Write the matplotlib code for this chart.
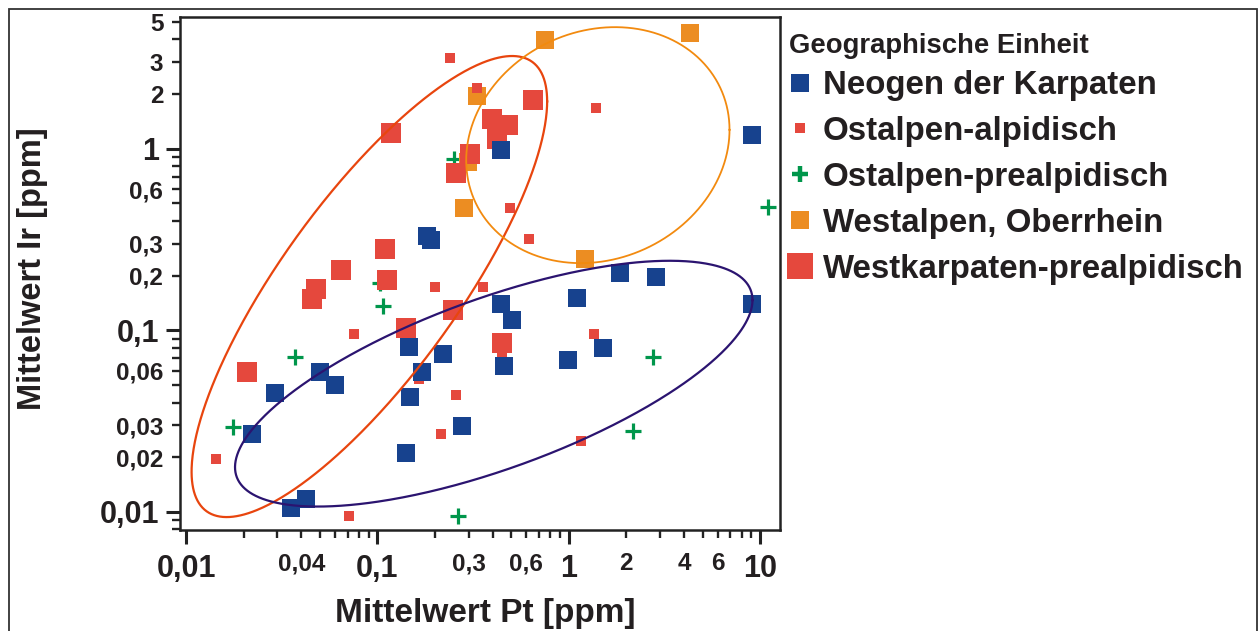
import numpy as np
import matplotlib
matplotlib.use("Agg")
import matplotlib.pyplot as plt
from matplotlib.lines import Line2D
from matplotlib.patches import Rectangle
from matplotlib.ticker import FixedLocator, FuncFormatter

plt.rcParams['font.family'] = ['Liberation Sans', 'DejaVu Sans']
plt.rcParams['font.weight'] = 'bold'

# --- data: mean Pt and Ir contents [ppm] per geographic unit ---
neogen_pt = [0.44, 9.1, 0.182, 0.19, 0.44, 0.505, 1.10, 1.85, 2.86, 9.1, 1.51, 0.99, 0.46,
             0.22, 0.146, 0.171, 0.148, 0.277, 0.141, 0.050, 0.060, 0.0292, 0.0221, 0.0424, 0.0354]
neogen_ir = [0.985, 1.19, 0.331, 0.315, 0.140, 0.114, 0.151, 0.207, 0.197, 0.140, 0.080, 0.0686, 0.0636,
             0.074, 0.081, 0.059, 0.043, 0.0297, 0.0211, 0.059, 0.050, 0.045, 0.0268, 0.0118, 0.0105]

ostalp_alp_pt = [0.24, 0.332, 1.39, 0.494, 0.62, 0.200, 0.357, 0.0755, 1.356, 0.448, 0.165,
                 0.258, 0.215, 1.16, 0.01435, 0.0711]
ostalp_alp_ir = [3.16, 2.16, 1.68, 0.472, 0.318, 0.173, 0.173, 0.0954, 0.0954, 0.072, 0.054,
                 0.044, 0.0268, 0.0246, 0.0195, 0.0095]

ostalp_pre_pt = [0.252, 11.0, 0.107, 0.103, 0.0371, 0.0176, 2.76, 2.17, 0.264]
ostalp_pre_ir = [0.879, 0.478, 0.136, 0.182, 0.0713, 0.0293, 0.0713, 0.0279, 0.0095]

westalp_pt = [0.75, 4.3, 0.332, 0.298, 0.284, 1.22]
westalp_ir = [3.98, 4.35, 1.95, 0.846, 0.472, 0.247]

westkarp_pt = [0.118, 0.651, 0.398, 0.482, 0.422, 0.305, 0.258, 0.110, 0.112, 0.0646,
               0.0478, 0.0456, 0.141, 0.2485, 0.448, 0.0208]
westkarp_ir = [1.22, 1.86, 1.46, 1.35, 1.13, 0.936, 0.736, 0.280, 0.189, 0.215,
               0.169, 0.149, 0.103, 0.129, 0.085, 0.059]

group_labels = ["Neogen der Karpaten", "Ostalpen-alpidisch", "Ostalpen-prealpidisch",
                "Westalpen, Oberrhein", "Westkarpaten-prealpidisch"]
legend_title = "Geographische Einheit"

x_major_ticks = [0.01, 0.1, 1, 10]
x_minor_labeled = [0.04, 0.3, 0.6, 2, 4, 6]
y_major_ticks = [0.01, 0.1, 1]
y_minor_labeled = [0.02, 0.03, 0.06, 0.2, 0.3, 0.6, 2, 3, 5]

# colours
C_BLUE = '#17428E'
C_RED = '#E5483D'
C_GREEN = '#00964B'
C_ORANGE = '#EC8D22'
TXT = '#231F20'

# group ellipses in log10 space: centre, half extents, phase
ellipses = [
    dict(cx=-1.042, cy=-0.759, rx=0.929, ry=1.270, cphi=0.803, color='#E8450E', lw=1.6),
    dict(cx=0.152, cy=0.020, rx=0.688, ry=0.650, cphi=0.13, color='#F28A0F', lw=1.3),
    dict(cx=-0.392, cy=-1.294, rx=1.352, ry=0.677, cphi=0.68, color='#2B1470', lw=1.6),
]

W, H = 1258, 631
fig = plt.figure(figsize=(W / 100, H / 100), dpi=100)
ax = fig.add_axes([180 / W, 1 - 530 / H, 600 / W, 513 / H])
ax.set_xscale('log')
ax.set_yscale('log')
ax.set_xlim(0.0093, 12.7)
ax.set_ylim(0.00794, 5.32)

# markers: drawn bottom to top
ax.plot(ostalp_pre_pt, ostalp_pre_ir, ls='none', marker='+', ms=11.5, mew=2.3, color=C_GREEN, zorder=3)
ax.plot(westalp_pt, westalp_ir, ls='none', marker='s', ms=13.5, mew=0, color=C_ORANGE, zorder=4)
ax.plot(westkarp_pt, westkarp_ir, ls='none', marker='s', ms=13.8, mew=0, color=C_RED, zorder=5)
ax.plot(ostalp_alp_pt, ostalp_alp_ir, ls='none', marker='s', ms=7.5, mew=0, color=C_RED, zorder=6)
ax.plot(neogen_pt, neogen_ir, ls='none', marker='s', ms=13.5, mew=0, color=C_BLUE, zorder=7)

t = np.linspace(0, 2 * np.pi, 600)
for e in ellipses:
    phi = np.arccos(e['cphi'])
    lx = e['cx'] + e['rx'] * np.cos(t)
    ly = e['cy'] + e['ry'] * np.cos(t - phi)
    ax.plot(10 ** lx, 10 ** ly, color=e['color'], lw=e['lw'], zorder=8)


def comma(v):
    return ('%g' % v).replace('.', ',')


def minor_fmt(labeled):
    def f(v, pos):
        for L in labeled:
            if abs(v - L) / L < 1e-6:
                return comma(L)
        return ''
    return FuncFormatter(f)


def minor_positions(lo_exp, hi_exp):
    return [m * 10.0 ** e for e in range(lo_exp, hi_exp + 1) for m in range(2, 10)]


ax.xaxis.set_major_locator(FixedLocator(x_major_ticks))
ax.xaxis.set_major_formatter(FuncFormatter(lambda v, p: comma(v)))
ax.xaxis.set_minor_locator(FixedLocator(minor_positions(-3, 1)))
ax.xaxis.set_minor_formatter(minor_fmt(x_minor_labeled))
ax.yaxis.set_major_locator(FixedLocator(y_major_ticks))
ax.yaxis.set_major_formatter(FuncFormatter(lambda v, p: comma(v)))
ax.yaxis.set_minor_locator(FixedLocator(minor_positions(-3, 0)))
ax.yaxis.set_minor_formatter(minor_fmt(y_minor_labeled))

ax.tick_params(axis='both', which='major', direction='out', length=10, width=2.2,
               color='#222222', labelcolor=TXT, labelsize=22)
ax.tick_params(axis='both', which='minor', direction='out', length=5.5, width=1.7,
               color='#222222', labelcolor=TXT, labelsize=17.5)
ax.tick_params(axis='x', which='major', pad=7.5)
ax.tick_params(axis='x', which='minor', pad=10.5)
ax.tick_params(axis='y', which='major', pad=5)
ax.tick_params(axis='y', which='minor', pad=6.5)

for s in ax.spines.values():
    s.set_linewidth(1.8)
    s.set_color('#222222')

ax.set_xlabel('Mittelwert Pt [ppm]', fontsize=24, fontweight='bold', color=TXT, va='center')
ax.xaxis.set_label_coords(0.508, -0.162)
ax.set_ylabel('Mittelwert Ir [ppm]', fontsize=23.5, fontweight='bold', color=TXT, va='center')
ax.yaxis.set_label_coords(-0.245, 0.509)

handles = [
    Line2D([], [], ls='none', marker='s', ms=13.5, mew=0, color=C_BLUE),
    Line2D([], [], ls='none', marker='s', ms=6.5, mew=0, color=C_RED),
    Line2D([], [], ls='none', marker='+', ms=12, mew=3.2, color=C_GREEN),
    Line2D([], [], ls='none', marker='s', ms=13.5, mew=0, color=C_ORANGE),
    Line2D([], [], ls='none', marker='s', ms=19, mew=0, color=C_RED),
]
leg = ax.legend(handles, group_labels, title=legend_title, loc='upper left',
                bbox_to_anchor=(789 / W, 1 - 33 / H), bbox_transform=fig.transFigure,
                frameon=False, prop=dict(weight='bold', size=23.8),
                title_fontproperties=dict(weight='bold', size=19.8),
                alignment='left', handlelength=0.68, handletextpad=0.34,
                labelspacing=0.45, borderpad=0, borderaxespad=0)
for txt in leg.get_texts():
    txt.set_color(TXT)
leg.get_title().set_color(TXT)
# extra gap between title and first entry
leg._legend_box.sep = 8

# outer frame of the figure
fig.add_artist(Rectangle((9 / W, -0.1), (1257 - 9) / W, 1 - 9 / H + 0.1,
                         transform=fig.transFigure, fill=False, lw=1.3, ec='#333333'))

fig.savefig('out.png', dpi=100)
